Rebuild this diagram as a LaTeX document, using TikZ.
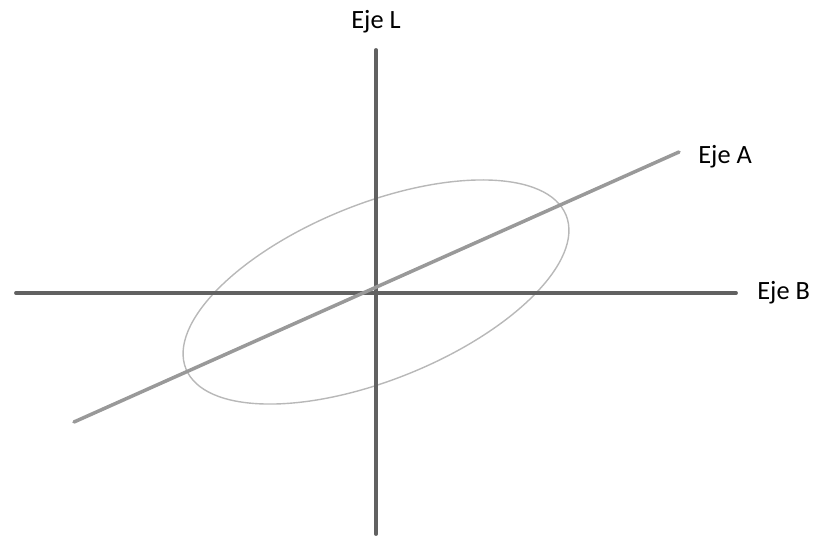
\documentclass[tikz,border=0pt]{standalone}
\usepackage{fontspec}
\setmainfont{Carlito}
\usepackage{tikz}
\usetikzlibrary{positioning}

\begin{document}
\begin{tikzpicture}[x=0.02cm,y=-0.02cm,
  axis/.style={draw=black!62,line width=2.2pt,line cap=round},
  diag/.style={draw=black!40,line width=2pt,line cap=round},
  ell/.style={draw=black!28,line width=0.8pt},
  lbl/.style={inner sep=0pt,font=\fontsize{15}{17}\selectfont}]
\useasboundingbox (0,0) rectangle (814,540);
\coordinate (o) at (376,292);
\coordinate (ltop) at (376,50);
\coordinate (lbot) at (376,534);
\coordinate (bleft) at (16,293);
\coordinate (bright) at (736,293);
\coordinate (aleft) at (74,422);
\coordinate (aright) at (679,152);
\node[lbl] (lL) at (376,22) {Eje L};
\node[lbl,right=0.38cm of aright,yshift=-0.1cm] (lA) {Eje A};
\node[lbl,right=0.42cm of bright] (lB) {Eje B};
\draw[ell,rotate around={22:(o)}] (o) ellipse [x radius=205,y radius=88];
\draw[axis] (bleft)--(bright);
\draw[axis] (ltop)--(lbot);
\draw[diag] (aleft)--(aright);
\end{tikzpicture}
\end{document}
